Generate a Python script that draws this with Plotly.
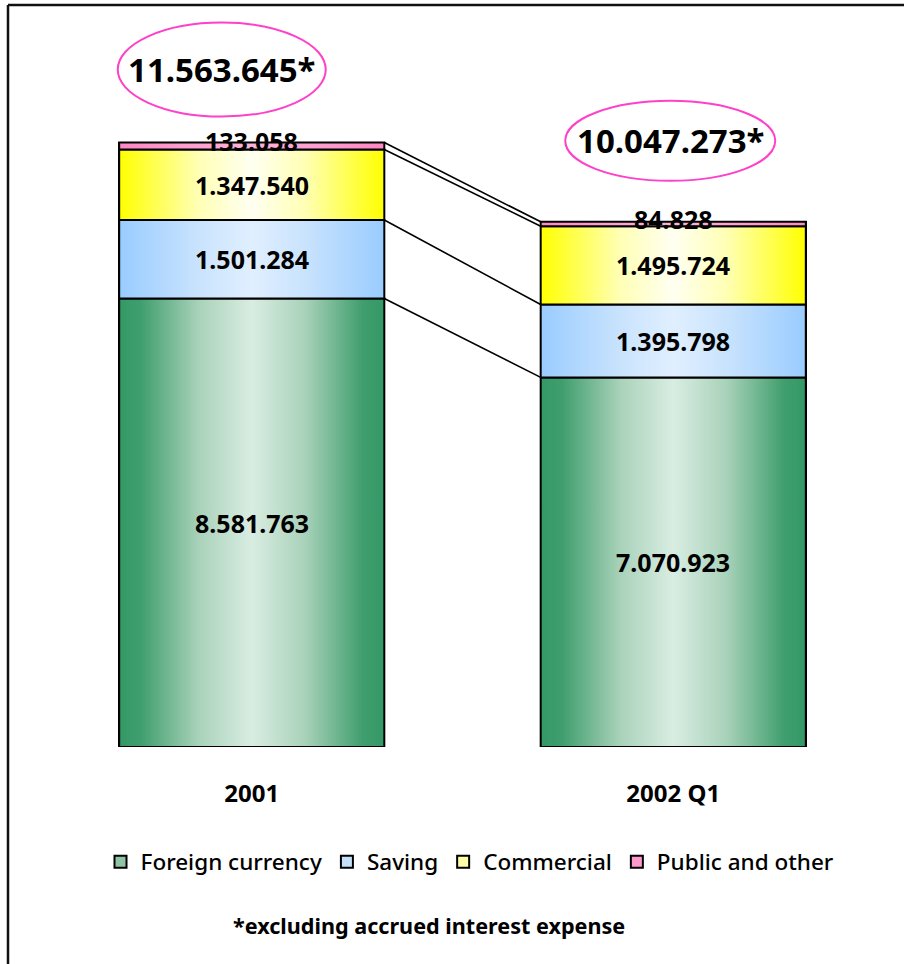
import plotly.graph_objects as go

# ---- data -------------------------------------------------------------
categories = ["2001", "2002 Q1"]
series_names = ["Foreign currency", "Saving", "Commercial", "Public and other"]
foreign_currency = [8581763, 7070923]
saving = [1501284, 1395798]
commercial = [1347540, 1495724]
public_other = [133058, 84828]
totals = [11563645, 10047273]

# ---- style ------------------------------------------------------------
FONT = "Noto Sans"
BAR_WIDTH = 0.629
Y_MAX = 14.1e6
M_L, M_R, M_T, M_B = 41, 20, 10, 217
W, H = 904, 964
PLOT_W = W - M_L - M_R
PLOT_H = H - M_T - M_B

gradients = {
    "Foreign currency": [[0, "#339966"], [0.08, "#3f9e6d"], [0.3, "#a9d2ba"],
                         [0.5, "#d9ede2"], [0.7, "#a9d2ba"], [0.92, "#3f9e6d"],
                         [1, "#339966"]],
    "Saving": [[0, "#99ccff"], [0.3, "#c9e3fd"], [0.5, "#e0efff"],
               [0.7, "#c9e3fd"], [1, "#99ccff"]],
    "Commercial": [[0, "#ffff00"], [0.3, "#ffffb5"], [0.5, "#fffff2"],
                   [0.7, "#ffffb5"], [1, "#ffff00"]],
    "Public and other": [[0, "#ff88c4"], [0.5, "#ffb3d9"], [1, "#ff88c4"]],
}
swatch = {
    "Foreign currency": "#8fc4a5",
    "Saving": "#c4e0fb",
    "Commercial": "#ffffa8",
    "Public and other": "#ff99cc",
}
label_shift = {"Foreign currency": 0, "Saving": 0, "Commercial": 0,
               "Public and other": 5}
total_offsets = [(-30, 73, 104, 47), (-3, 81, 105, 40)]  # dx, dy, rx, ry in px


def fmt(v):
    return f"{v:,}".replace(",", ".")


values = dict(zip(series_names,
                  [foreign_currency, saving, commercial, public_other]))
xs = list(range(len(categories)))

fig = go.Figure()

# Stacked bars (also provide the legend swatches)
for name in series_names:
    fig.add_trace(go.Bar(
        x=xs, y=values[name], name=name, width=BAR_WIDTH,
        marker=dict(color=swatch[name], line=dict(color="#000000", width=2)),
        hoverinfo="skip",
    ))

# Cumulative tops per bar
cum = {}
for i in xs:
    run = 0
    cum[i] = []
    for name in series_names:
        base = run
        run += values[name][i]
        cum[i].append((base, run))

# Horizontal gradient fills over each segment
for name_idx, name in enumerate(series_names):
    for i in xs:
        b, t = cum[i][name_idx]
        x0, x1 = i - BAR_WIDTH / 2, i + BAR_WIDTH / 2
        fig.add_trace(go.Scatter(
            x=[x0, x1, x1, x0, x0], y=[b, b, t, t, b],
            mode="lines", fill="toself",
            fillgradient=dict(type="horizontal", colorscale=gradients[name],
                              start=x0, stop=x1),
            line=dict(color="#000000", width=2),
            showlegend=False, hoverinfo="skip",
        ))
        fig.add_annotation(
            x=i, y=(b + t) / 2, text=fmt(values[name][i]), showarrow=False,
            yshift=label_shift[name],
            font=dict(family=FONT, size=25, color="#000000", weight="bold"),
        )

# Connector lines between the segment boundaries of the two bars
cx, cy = [], []
for k in range(len(series_names)):
    cx += [0 + BAR_WIDTH / 2, 1 - BAR_WIDTH / 2, None]
    cy += [cum[0][k][1], cum[1][k][1], None]
fig.add_trace(go.Scatter(x=cx, y=cy, mode="lines",
                         line=dict(color="#000000", width=1.6),
                         showlegend=False, hoverinfo="skip"))

# Totals with ellipses
for i in xs:
    dx, dy, rx, ry = total_offsets[i]
    fig.add_annotation(
        x=i, y=totals[i], text=fmt(totals[i]) + "*", showarrow=False,
        xshift=dx, yshift=dy,
        font=dict(family=FONT, size=33, color="#000000", weight="bold"),
    )
    fig.add_shape(
        type="circle", xref="x", yref="y",
        xsizemode="pixel", ysizemode="pixel",
        xanchor=i, yanchor=totals[i],
        x0=dx - rx, x1=dx + rx, y0=dy - ry, y1=dy + ry,
        line=dict(color="#ff40c8", width=2),
    )


def px_x(p):
    return (p - M_L) / PLOT_W


def px_y(p):
    return (H - M_B - p) / PLOT_H


# Frame lines (top and left)
fig.add_shape(type="line", xref="paper", yref="paper",
              x0=px_x(8), x1=px_x(904), y0=px_y(5), y1=px_y(5),
              line=dict(color="#111111", width=2.5))
fig.add_shape(type="line", xref="paper", yref="paper",
              x0=px_x(8), x1=px_x(8), y0=px_y(5), y1=px_y(964),
              line=dict(color="#111111", width=2.5))

# Footnote
fig.add_annotation(
    xref="paper", yref="paper", x=px_x(429), y=px_y(925),
    xanchor="center", yanchor="middle",
    text="*excluding accrued interest expense", showarrow=False,
    font=dict(family=FONT, size=21.6, color="#000000", weight="bold"),
)

fig.update_layout(
    width=W, height=H,
    margin=dict(l=M_L, r=M_R, t=M_T, b=M_B),
    paper_bgcolor="#ffffff", plot_bgcolor="#ffffff",
    barmode="stack",
    showlegend=True,
    legend=dict(
        orientation="h", x=px_x(470), xanchor="center",
        y=px_y(862), yanchor="middle",
        font=dict(family=FONT, size=22.5, color="#000000", weight=500),
        traceorder="normal", itemclick=False,
    ),
    xaxis=dict(
        range=[-0.5, 1.5], tickvals=xs, ticktext=categories,
        showgrid=False, zeroline=False, showline=False, ticks="",
        ticklabelstandoff=30,
        tickfont=dict(family=FONT, size=24, color="#000000", weight="bold"),
    ),
    yaxis=dict(range=[0, Y_MAX], visible=False, showgrid=False),
)

fig.write_html("out.html")
